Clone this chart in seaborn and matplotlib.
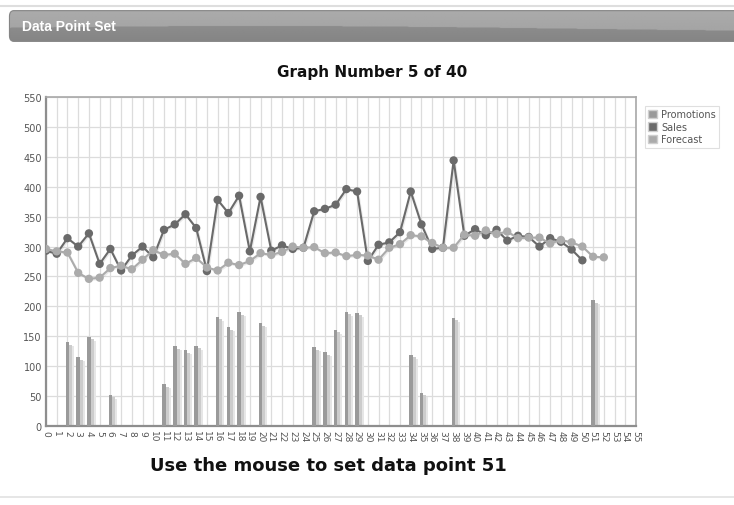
import matplotlib
matplotlib.use("Agg")
import numpy as np
import pandas as pd
import matplotlib.pyplot as plt
import seaborn as sns
from matplotlib.patches import FancyBboxPatch, Patch
from matplotlib.lines import Line2D
from matplotlib.transforms import ScaledTranslation
import matplotlib.patheffects as pe

# ---- data -----------------------------------------------------------------
promo_points = [2, 3, 4, 6, 11, 12, 13, 14, 16, 17, 18, 20, 25, 26, 27, 28, 29,
                34, 35, 38, 51]
promotions = [140, 115, 149, 52, 70, 133, 127, 134, 183, 165, 190, 172, 132,
              123, 161, 191, 189, 119, 56, 181, 210]

sales = [293, 288, 314, 300, 322, 271, 296, 260, 285, 300, 282, 328, 337, 354,
         331, 259, 378, 356, 385, 292, 383, 293, 302, 296, 298, 359, 363, 370,
         396, 392, 276, 303, 307, 324, 392, 337, 296, 298, 444, 318, 329, 319,
         328, 310, 318, 316, 300, 314, 308, 295, 277]
forecast = [296, 292, 290, 256, 246, 248, 264, 268, 262, 278, 294, 286, 288,
            271, 281, 265, 260, 273, 269, 276, 289, 286, 291, 300, 298, 299,
            289, 290, 284, 286, 285, 278, 298, 304, 319, 317, 306, 298, 298,
            320, 318, 327, 321, 325, 314, 315, 315, 305, 311, 307, 300, 283,
            282]

x_ticks = list(range(56))
y_ticks = list(range(0, 551, 50))

df_promo = pd.DataFrame({"point": promo_points, "value": promotions})
df_sales = pd.DataFrame({"point": range(len(sales)), "value": sales})
df_fc = pd.DataFrame({"point": range(len(forecast)), "value": forecast})

C_PROMO = "#9a9a9a"
C_SALES = "#6a6a6a"
C_FC = "#ababab"

# ---- figure ---------------------------------------------------------------
sns.set_theme(style="white")
plt.rcParams["font.family"] = ["DejaVu Sans"]
W, H = 734, 506
fig = plt.figure(figsize=(W / 100, H / 100), dpi=100)
fig.patch.set_facecolor("white")

def fx(px):
    return px / W

def fy(py):
    return 1 - py / H

# page rules
fig.add_artist(Line2D([0, 1], [fy(7), fy(7)], color="#dedede", lw=1.5,
                      transform=fig.transFigure))
fig.add_artist(Line2D([0, 1], [fy(498), fy(498)], color="#e2e2e2", lw=1.2,
                      transform=fig.transFigure))

# header bar with a soft two-tone gradient
hax = fig.add_axes([fx(8), fy(43), fx(740 - 8), fy(11) - fy(43)])
hax.set_xlim(0, 1)
hax.set_ylim(0, 1)
hax.axis("off")
grad = np.linspace(0, 1, 64)[:, None]
xs = np.linspace(0, 1, 256)[None, :]
wave = 0.58 - 0.08 * np.sin(xs * np.pi * 1.2 + 0.3)
img = np.where(grad < wave, 0.67 - 0.04 * grad, 0.58 - 0.06 * grad)
box = FancyBboxPatch((0.002, 0.02), 1.2, 0.96,
                     boxstyle="round,pad=0,rounding_size=0.006",
                     transform=hax.transAxes, facecolor="none",
                     edgecolor="#858585", lw=0.8, mutation_aspect=30)
hax.add_patch(box)
im = hax.imshow(img, cmap="gray", vmin=0, vmax=1, extent=[0, 1, 0, 1],
                aspect="auto", origin="upper")
im.set_clip_path(box)
hax.text(fx(22 - 8) / fx(732), 0.5, "Data Point Set", color="white",
         fontsize=10, fontweight="bold", va="center", ha="left",
         family=["Liberation Sans", "DejaVu Sans"])

# main chart
ax = fig.add_axes([fx(46), fy(427), fx(636 - 46), fy(98) - fy(427)])
ax.set_facecolor("white")

# promotion bars: soft right-hand shadow, then the bar itself
shadow_specs = [(5, 4, "#e6e6e6"), (3, 2.5, "#cccccc")]
for dx, dy, col in shadow_specs:
    n_before = len(ax.patches)
    sns.barplot(data=df_promo, x="point", y="value", native_scale=True,
                width=0.34, color=col, saturation=1, ax=ax, zorder=2)
    for p in ax.patches[n_before:]:
        p.set_transform(ax.transData +
                        ScaledTranslation(dx / 100, -dy / 100,
                                          fig.dpi_scale_trans))
        p.set_edgecolor("none")
n_before = len(ax.patches)
sns.barplot(data=df_promo, x="point", y="value", native_scale=True,
            width=0.34, color=C_PROMO, saturation=1, ax=ax, zorder=3)
for p in ax.patches[n_before:]:
    p.set_edgecolor("none")

shadow = [pe.SimpleLineShadow(offset=(0.8, -0.8), shadow_color="#888888",
                              alpha=0.18), pe.Normal()]
sns.lineplot(data=df_sales, x="point", y="value", color=C_SALES, lw=1.5,
             marker="o", markersize=6, markeredgewidth=0, ax=ax, zorder=4,
             path_effects=shadow)
sns.lineplot(data=df_fc, x="point", y="value", color=C_FC, lw=1.5,
             marker="o", markersize=6, markeredgewidth=0, ax=ax, zorder=5,
             path_effects=shadow)

ax.set_xlim(0, 55)
ax.set_ylim(0, 550)
ax.set_xticks(x_ticks)
ax.set_xticklabels([str(t) for t in x_ticks], rotation=-90, fontsize=6.5,
                   color="#555555")
ax.set_yticks(y_ticks)
ax.set_yticklabels([str(t) for t in y_ticks], fontsize=7, color="#555555")
ax.tick_params(axis="both", length=0, pad=3)
ax.set_xlabel("")
ax.set_ylabel("")
ax.grid(True, color="#dcdcdc", lw=0.9, zorder=0)
ax.set_axisbelow(True)
for side in ["top", "right"]:
    ax.spines[side].set_color("#a8a8a8")
    ax.spines[side].set_linewidth(1.2)
for side in ["left", "bottom"]:
    ax.spines[side].set_color("#8e8e8e")
    ax.spines[side].set_linewidth(1.6)

# legend
handles = [Patch(facecolor=C_PROMO, edgecolor="#cfcfcf", label="Promotions"),
           Patch(facecolor=C_SALES, edgecolor="#cfcfcf", label="Sales"),
           Patch(facecolor=C_FC, edgecolor="#cfcfcf", label="Forecast")]
leg = fig.legend(handles=handles, loc="upper left",
                 bbox_to_anchor=(fx(645), fy(107)), bbox_transform=fig.transFigure,
                 fontsize=7, frameon=True, fancybox=False, handlelength=0.9,
                 handleheight=0.9, handletextpad=0.4, borderpad=0.35,
                 labelspacing=0.25, borderaxespad=0)
leg.get_frame().set_edgecolor("#d8d8d8")
leg.get_frame().set_linewidth(0.8)
for t in leg.get_texts():
    t.set_color("#555555")

# titles
fig.text(fx(372), fy(72), "Graph Number 5 of 40", ha="center", va="center",
         fontsize=11, fontweight="bold", color="#111111")
fig.text(fx(328), fy(466), "Use the mouse to set data point 51", ha="center",
         va="center", fontsize=13, fontweight="bold", color="#111111")

fig.savefig("out.png", dpi=100)
